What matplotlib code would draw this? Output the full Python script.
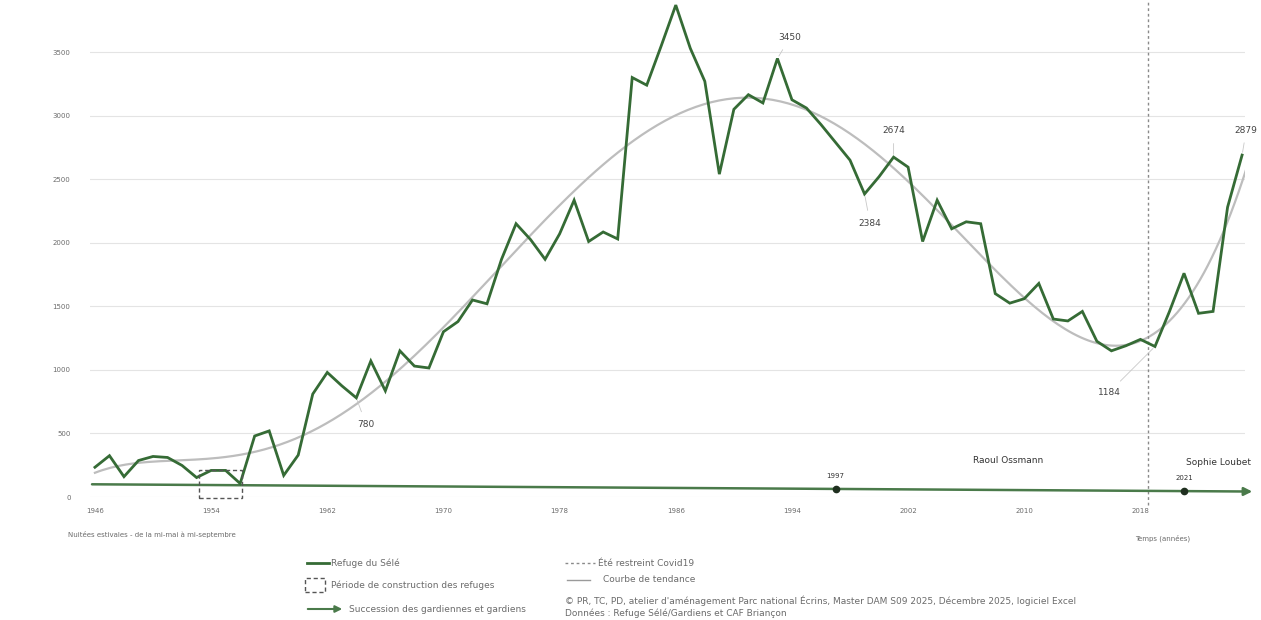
import numpy as np
import matplotlib
matplotlib.use('Agg')
import matplotlib.pyplot as plt
from matplotlib.patches import Rectangle, FancyArrowPatch
from matplotlib.lines import Line2D

# Summer overnight stays at the refuge, one value per season
years = np.arange(1946, 2026)
nights = [234, 325, 160, 287, 319, 311, 248, 153, 209, 209,
          106, 480, 520, 170, 330, 810, 980, 875, 780, 1070,
          835, 1150, 1030, 1015, 1300, 1380, 1550, 1520, 1870, 2150,
          2025, 1870, 2070, 2335, 2010, 2085, 2030, 3300, 3240, 3550,
          3870, 3530, 3270, 2540, 3050, 3165, 3100, 3450, 3125, 3060,
          2930, 2790, 2650, 2384, 2520, 2674, 2595, 2010, 2335, 2110,
          2165, 2150, 1600, 1525, 1560, 1680, 1400, 1385, 1460, 1225,
          1150, 1190, 1240, 1184, 1460, 1760, 1445, 1460, 2280, 2690]

# labelled points
label_years = [1993, 2001, 1999, 1964, 2019, 2025]
label_texts = ['3450', '2674', '2384', '780', '1184', '2879']
label_offsets = [(9, 15), (0, 19), (4, -21), (7, -19), (-33, -33), (3, 18)]  # points

# construction period of the refuge, covid summer
build_start, build_end, build_top = 1953.2, 1956.1, 210
covid_year = 2018.5

# keepers timeline
keeper_years = [1997, 2021]
keeper_labels = ['1997', '2021']
keeper_names = ['Raoul Ossmann', 'Sophie Loubet']
keeper_name_x = [2008.9, 2025.6]
line_start, line_end = (1945.8, 100), (2025.7, 43)

yticks = np.arange(0, 4000, 500)
xticks = np.arange(1946, 2019, 8)

green = '#356b35'
grey_txt = '#6b6b6b'

fig = plt.figure(figsize=(12.61, 6.2), dpi=100)
ax = fig.add_axes([90 / 1261, 123 / 620, (1245 - 90) / 1261, 497 / 620])

ax.set_xlim(1945.66, 2025.2)
ax.set_ylim(0, 3910)
for s in ax.spines.values():
    s.set_visible(False)
ax.set_yticks(yticks)
ax.set_xticks(xticks)
ax.tick_params(axis='y', length=0, pad=14, labelsize=5, labelcolor=grey_txt)
ax.tick_params(axis='x', length=0, pad=8, labelsize=5, labelcolor=grey_txt)
ax.grid(axis='y', color='#e4e4e4', lw=0.8)
ax.set_axisbelow(True)

# trend curve (order 6 polynomial, like a spreadsheet trendline)
xc = years - years.mean()
coef = np.polyfit(xc / 40.0, nights, 6)
xs = np.linspace(xc[0], xc[-1] + 0.3, 300)
ax.plot(xs + years.mean(), np.polyval(coef, xs / 40.0), color='#bdbdbd', lw=1.6, zorder=2)

# main series
ax.plot(years, nights, color=green, lw=2.0, zorder=4, solid_joinstyle='miter')

# construction period box
ax.add_patch(Rectangle((build_start, -10), build_end - build_start, build_top + 10,
                       fill=False, ec='#555555', ls=(0, (3, 2)), lw=1.0, zorder=5,
                       clip_on=False))

# covid summer
ax.plot([covid_year, covid_year], [-65, 3910], color='#8a8a8a', lw=1.0,
        ls=(0, (2, 2)), zorder=3, clip_on=False)

# timeline of keepers
ax.annotate('', xy=line_end, xytext=line_start, annotation_clip=False,
            arrowprops=dict(arrowstyle='-|>', color='#4a7a4a', lw=1.8,
                            mutation_scale=12, shrinkA=0, shrinkB=0), zorder=3)
slope = (line_end[1] - line_start[1]) / (line_end[0] - line_start[0])
for yr, lab in zip(keeper_years, keeper_labels):
    yv = line_start[1] + (yr - line_start[0]) * slope
    ax.plot(yr, yv, 'o', color='#1f2f1f', ms=4.5, zorder=6, clip_on=False)
    ax.text(yr, yv + 80, lab, ha='center', va='bottom', fontsize=5, color='#333333')
ax.text(keeper_name_x[0], 290, keeper_names[0], ha='center', va='center',
        fontsize=6.5, color='#333333')
ax.text(keeper_name_x[1], 270, keeper_names[1], ha='right', va='center',
        fontsize=6.5, color='#333333', clip_on=False)

# value labels
for yr, txt, off in zip(label_years, label_texts, label_offsets):
    yv = nights[list(years).index(yr)]
    ax.annotate(txt, xy=(yr, yv), xytext=off, textcoords='offset points',
                ha='center', va='center', fontsize=6.5, color='#444444',
                arrowprops=dict(arrowstyle='-', color='#c8c8c8', lw=0.6,
                                shrinkA=4, shrinkB=2), zorder=7)

# axis titles
fig.text(68 / 1261, 1 - 535 / 620, 'Nuitées estivales - de la mi-mai à mi-septembre',
         fontsize=5, color=grey_txt, va='center')
fig.text(1163 / 1261, 1 - 538 / 620, 'Temps (années)', fontsize=5, color=grey_txt,
         ha='center', va='center')


# legend, drawn by hand
def fx(px):
    return px / 1261


def fy(py):
    return 1 - py / 620


fig.add_artist(Line2D([fx(307), fx(329)], [fy(563), fy(563)], color=green, lw=2))
fig.text(fx(331), fy(563), 'Refuge du Sélé', fontsize=6.5, color=grey_txt, va='center')
fig.add_artist(Rectangle((fx(305), fy(592)), fx(20), fy(578) - fy(592), fill=False,
                         ec='#555555', ls=(0, (3, 2)), lw=1.0,
                         transform=fig.transFigure))
fig.text(fx(331), fy(585), 'Période de construction des refuges', fontsize=6.5,
         color=grey_txt, va='center')
fig.add_artist(FancyArrowPatch((fx(305), fy(609)), (fx(345), fy(609)),
                               transform=fig.transFigure, arrowstyle='-|>',
                               mutation_scale=10, color='#4a7a4a', lw=1.5))
fig.text(fx(349), fy(609), 'Succession des gardiennes et gardiens', fontsize=6.5,
         color=grey_txt, va='center')

fig.add_artist(Line2D([fx(565), fx(595)], [fy(563), fy(563)], color='#8a8a8a', lw=1.0,
                      ls=(0, (2, 2))))
fig.text(fx(598), fy(563), 'Été restreint Covid19', fontsize=6.5, color=grey_txt,
         va='center')
fig.add_artist(Line2D([fx(567), fx(590)], [fy(580), fy(580)], color='#9a9a9a', lw=1.0))
fig.text(fx(603), fy(580), 'Courbe de tendance', fontsize=6.5, color=grey_txt,
         va='center')
fig.text(fx(565), fy(601),
         "© PR, TC, PD, atelier d'aménagement Parc national Écrins, Master DAM S09 2025, "
         "Décembre 2025, logiciel Excel", fontsize=6.5, color=grey_txt, va='center')
fig.text(fx(565), fy(613), 'Données : Refuge Sélé/Gardiens et CAF Briançon',
         fontsize=6.5, color=grey_txt, va='center')

fig.savefig('out.png', dpi=100)
